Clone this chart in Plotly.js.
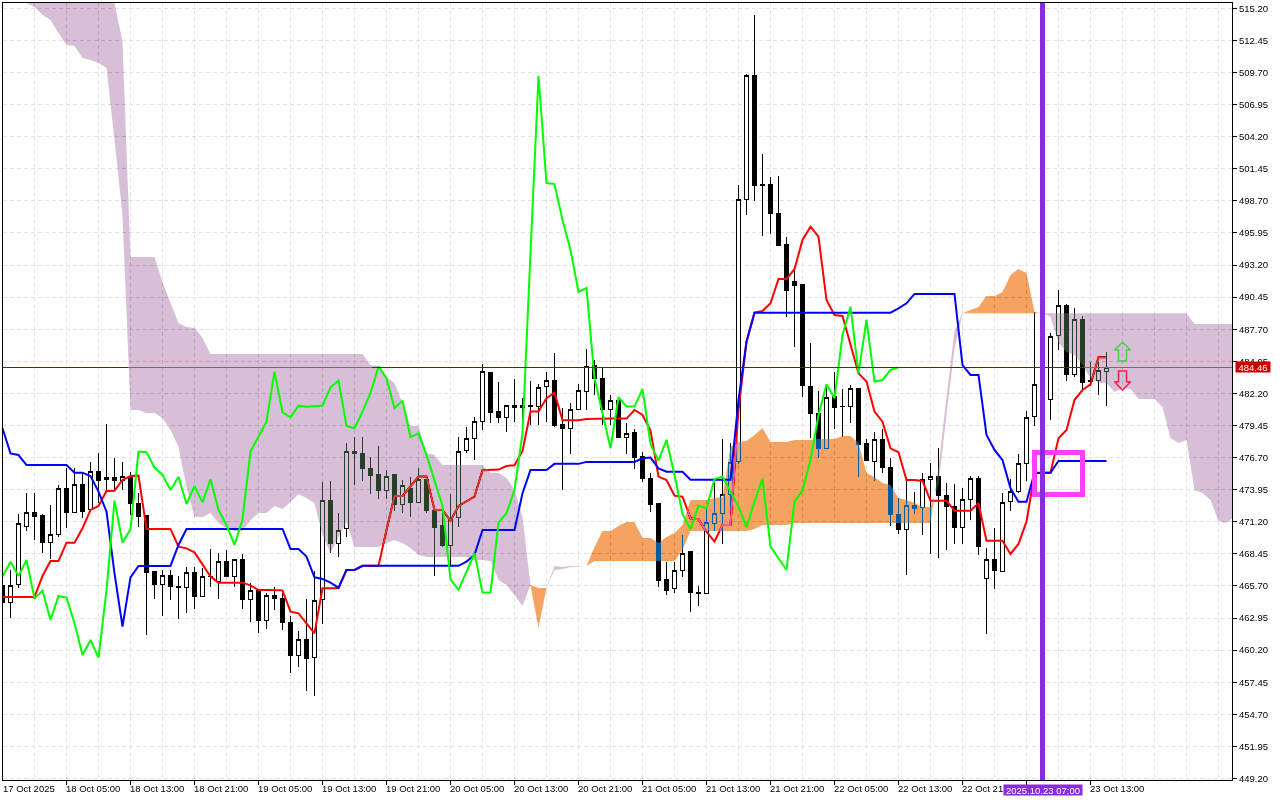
<!DOCTYPE html>
<html><head><meta charset="utf-8">
<script src="https://cdn.plot.ly/plotly-3.0.1.min.js"></script>
<style>html,body{margin:0;padding:0;background:#fff}#c{width:1280px;height:800px}</style>
</head><body><div id="c"></div>
<script>
const opens=[465.78,464.30,465.84,470.81,472.01,471.70,469.44,470.09,474.06,472.01,
474.41,472.21,475.52,474.84,475.01,474.75,475.06,472.78,471.70,466.90,
465.84,466.61,465.67,465.58,466.87,464.81,466.50,466.04,467.81,466.50,
467.98,464.55,465.35,462.75,464.90,464.64,462.58,459.76,461.13,459.58,
464.55,473.04,469.35,470.61,477.24,477.07,475.78,475.21,473.87,475.21,
472.67,474.07,472.84,474.84,472.16,470.84,469.16,471.59,477.30,478.33,
479.78,484.01,480.61,480.15,481.18,480.98,481.18,481.07,482.78,483.32,
479.50,479.21,480.84,482.35,484.55,483.50,480.84,481.61,478.41,478.81,
476.76,474.93,472.73,466.27,465.47,467.01,468.61,465.16,465.07,471.07,
471.93,473.50,476.35,498.83,509.40,500.06,500.12,497.63,494.92,491.83,
491.49,482.83,480.49,477.49,481.92,481.06,481.06,482.63,477.87,476.38,
478.21,475.87,471.84,470.55,472.61,472.41,474.84,475.12,473.41,472.55,
470.70,473.12,474.92,466.33,467.93,466.92,472.92,473.78,476.21,480.21,
482.98,481.69,487.12,489.69,483.83,488.49,483.32,483.32,484.09];
const closes=[464.30,465.75,471.07,472.01,471.64,469.41,470.12,474.06,471.98,474.41,
472.07,475.49,474.72,475.01,474.75,475.06,472.75,471.64,466.84,465.81,
466.61,465.64,465.58,466.87,464.78,466.52,466.52,467.81,466.50,467.98,
464.53,465.33,462.73,464.90,464.61,462.55,459.76,461.13,459.50,464.47,
473.04,469.30,470.44,477.24,477.04,475.73,475.16,473.87,475.10,472.67,
474.33,472.84,474.84,472.13,470.70,469.16,471.36,477.24,478.35,479.81,
484.10,480.55,480.13,481.18,480.98,481.18,481.10,482.72,483.32,479.41,
479.18,480.84,482.47,484.52,483.44,480.84,481.61,478.41,478.78,476.70,
474.87,472.67,466.16,465.30,467.01,468.50,465.13,465.07,471.15,471.93,
473.55,476.30,498.83,509.40,500.00,500.00,497.60,494.86,491.06,491.41,
482.86,480.49,477.49,481.86,480.98,481.09,482.63,477.84,476.44,478.27,
475.84,471.78,470.50,472.61,472.33,474.81,475.10,473.41,472.50,470.70,
473.12,474.92,469.07,467.98,467.01,472.87,473.78,476.21,480.15,482.98,
481.69,487.06,489.69,483.78,488.55,483.12,483.26,484.18,484.41];
const highs=[465.78,467.07,471.87,473.64,473.64,471.87,472.64,474.32,475.78,475.78,
475.35,476.29,477.06,479.55,476.63,476.29,475.49,473.64,471.70,467.01,
467.07,467.07,466.55,467.35,467.35,467.21,468.84,468.50,468.78,467.98,
468.44,465.93,465.35,465.07,465.64,465.07,463.13,461.87,464.55,467.01,
474.58,474.66,471.92,477.93,478.44,478.44,476.73,477.70,475.64,475.30,
474.78,475.07,475.78,475.07,472.36,472.16,473.59,478.44,479.30,480.15,
484.72,484.01,483.18,481.18,483.47,481.78,483.24,482.98,484.01,485.64,
480.93,481.35,482.98,486.01,485.07,484.38,482.07,481.61,479.64,479.15,
477.21,475.41,472.79,467.78,467.78,470.07,468.70,465.70,472.35,474.50,
478.30,477.98,500.06,509.57,514.63,502.69,500.72,500.83,495.63,492.78,
491.49,486.49,482.41,482.98,484.06,482.55,482.92,482.63,478.29,478.86,
479.12,476.64,473.21,474.78,473.72,475.35,476.21,477.49,474.50,474.41,
474.07,475.12,475.12,468.93,470.64,473.64,474.84,477.01,480.72,489.20,
482.98,487.35,491.06,489.83,489.49,488.83,484.92,484.92,485.72];
const lows=[464.30,462.98,465.50,470.44,469.64,468.55,468.00,469.92,470.69,472.01,
471.55,472.07,472.78,473.92,473.86,473.92,471.78,470.78,461.50,464.58,
463.13,464.50,462.90,463.41,463.73,464.78,465.64,464.61,466.50,465.64,
463.70,462.64,461.70,461.98,463.64,461.93,458.21,458.78,456.73,456.30,
462.44,468.50,468.21,469.93,474.36,474.70,473.59,473.13,473.13,472.16,
471.99,471.64,472.79,471.93,466.56,469.02,467.36,470.79,477.07,476.50,
479.07,479.70,479.70,478.93,479.78,479.78,479.50,479.50,479.78,479.35,
473.93,477.01,480.78,480.78,482.07,479.50,479.50,478.41,477.01,475.70,
474.64,472.07,465.65,464.93,465.13,466.44,463.50,463.97,465.07,470.44,
469.30,472.21,476.15,497.49,498.72,495.72,495.86,494.86,488.78,486.20,
481.92,478.35,476.69,477.49,479.12,478.49,479.69,475.07,476.44,474.72,
475.35,470.84,470.13,466.64,471.87,470.07,468.44,468.13,468.78,469.30,
469.30,471.35,468.35,461.59,465.44,466.87,472.15,473.64,474.72,479.41,
481.69,479.92,485.92,483.29,483.58,482.55,482.84,482.06,481.12];
const tenkan=[464.75,464.75,464.75,464.75,464.75,466.55,467.84,467.84,469.41,469.41,
470.64,472.21,472.55,473.84,473.86,474.78,475.12,475.15,470.58,470.58,
470.58,470.58,469.07,468.92,468.58,467.58,466.50,465.98,465.98,465.98,
465.98,465.75,465.35,465.35,465.32,465.32,463.50,463.35,462.50,461.64,
465.50,465.50,465.50,467.07,467.07,467.42,467.42,467.42,470.50,473.41,
473.41,474.27,475.07,475.07,472.21,472.21,471.27,472.56,472.93,473.36,
475.61,475.61,475.67,475.98,476.04,477.27,480.64,480.64,481.78,482.27,
479.90,479.90,479.90,480.01,480.04,480.04,480.04,480.04,480.04,480.78,
480.35,479.01,475.07,474.78,473.44,473.35,471.50,471.41,470.35,469.50,
470.92,470.92,480.78,486.63,489.12,489.26,489.92,492.01,492.01,492.84,
495.35,496.49,495.63,490.21,488.92,488.83,486.35,483.92,483.21,480.64,
479.78,477.49,477.15,474.78,474.78,474.70,473.01,473.01,473.01,472.15,
472.15,472.15,472.78,469.58,469.58,469.58,468.44,469.30,471.21,475.35,
475.41,475.41,478.35,479.06,481.63,482.49,482.98,485.29,485.29];
const kijun=[479.21,477.06,476.92,476.06,476.06,476.06,476.06,476.06,476.06,475.41,
475.41,475.12,473.78,472.07,466.78,462.21,466.44,467.41,467.41,467.41,
467.41,467.41,469.21,470.58,470.58,470.58,470.58,470.58,470.58,470.58,
470.58,470.58,470.58,470.58,470.58,470.58,468.87,468.87,468.21,466.44,
466.30,465.98,465.55,467.07,467.07,467.42,467.42,467.42,467.42,467.42,
467.42,467.42,467.42,467.42,467.42,467.42,467.42,467.42,467.79,468.36,
470.50,470.50,470.50,470.50,470.50,473.64,475.64,475.64,475.64,476.16,
476.16,476.16,476.16,476.33,476.33,476.33,476.33,476.33,476.33,476.33,
476.64,476.70,475.78,475.49,475.49,475.49,474.81,474.81,474.81,474.81,
474.81,474.81,481.63,486.63,489.12,489.12,489.12,489.12,489.12,489.12,
489.12,489.12,489.12,489.12,489.12,489.12,489.12,489.12,489.12,489.12,
489.12,489.12,489.49,489.92,490.72,490.72,490.72,490.72,490.72,490.72,
484.63,483.78,483.78,478.64,477.35,476.49,474.07,472.92,472.92,475.41,
475.41,475.41,476.41,476.41,476.41,476.41,476.41,476.41,476.41];
const chikou=[466.50,467.78,466.55,467.92,464.61,465.30,462.78,464.84,464.70,462.50,
459.78,461.07,459.56,465.35,473.01,469.41,470.55,477.21,477.15,475.84,
475.21,473.92,475.06,472.72,474.26,472.86,474.84,472.21,470.92,469.21,
471.41,477.21,478.49,479.78,484.06,480.58,480.15,481.15,481.06,481.12,
481.15,482.72,483.29,479.41,479.21,480.64,482.21,484.50,483.50,480.93,
481.58,478.44,478.78,476.93,474.78,472.56,466.27,465.36,466.93,468.50,
465.13,465.13,471.13,471.93,473.93,478.78,494.23,509.40,500.23,500.14,
497.06,494.49,490.89,491.23,483.50,480.50,477.50,481.87,481.07,481.07,
482.58,477.87,476.44,478.21,475.21,471.87,470.55,472.58,472.35,474.87,
475.07,473.78,472.50,470.72,472.92,474.87,469.07,468.07,467.07,472.92,
473.87,476.49,480.35,482.98,481.78,487.20,489.63,483.92,488.49,483.21,
483.35,484.21,484.43];
const cloudStart=3;
const spanA=[515.65,515.31,514.65,514.20,513.08,512.06,511.97,510.94,510.77,510.51,
510.08,503.91,497.49,480.78,480.78,480.52,480.52,480.09,479.06,477.61,
474.18,471.61,471.61,471.95,471.09,470.67,470.41,470.41,471.35,471.95,
471.95,472.55,472.29,472.89,473.58,473.24,472.81,470.07,468.52,469.89,
471.18,469.04,469.04,469.04,469.04,469.38,469.64,469.38,468.95,468.35,
468.18,468.18,468.18,468.18,468.18,468.18,467.92,467.92,467.84,466.21,
465.78,464.92,463.98,465.78,465.52,465.52,467.07,467.15,467.32,467.37,
467.41,469.04,470.41,470.41,470.84,471.18,471.18,469.81,469.81,469.38,
469.89,470.24,470.92,473.06,473.06,473.06,473.24,473.32,477.61,478.03,
478.12,478.64,479.23,478.03,478.03,478.03,478.21,478.21,478.21,478.29,
478.29,478.29,478.55,478.55,477.95,475.38,475.04,474.52,474.35,473.24,
473.06,472.81,472.47,472.47,474.40,480.40,486.00,489.06,489.35,489.60,
490.55,490.55,490.89,492.35,492.86,492.52,489.17,489.06,488.75,486.52,
485.75,485.49,484.63,483.52,483.09,483.09,482.32,482.66,482.58,481.72,
481.72,481.72,481.04,478.38,477.95,478.21,473.92,473.66,473.06,471.27,
471.09,471.61];
const spanB=[515.65,515.65,515.65,515.65,515.65,515.65,515.65,515.65,515.65,515.65,
515.65,515.65,512.31,493.89,493.89,493.89,493.89,491.75,489.95,488.23,
487.89,487.80,486.95,485.58,485.58,485.58,485.58,485.58,485.58,485.58,
485.58,485.58,485.58,485.58,485.58,485.58,485.58,485.58,485.58,485.58,
485.58,485.58,485.58,484.63,484.55,483.61,483.09,481.38,479.41,479.41,
477.09,476.92,476.06,476.06,476.06,476.06,476.06,476.06,475.38,475.38,
474.95,473.92,471.61,465.78,462.10,465.52,467.41,467.32,467.41,467.41,
467.41,467.84,467.84,467.84,467.84,467.84,467.84,467.84,467.84,467.84,
467.84,467.84,468.78,470.41,470.41,470.41,470.41,470.41,470.41,470.41,
470.41,470.58,470.92,470.92,470.92,470.92,471.09,471.09,471.09,471.09,
471.09,471.09,471.09,471.09,471.09,471.09,471.09,471.09,471.09,471.09,
471.09,471.09,471.09,471.09,475.80,481.90,487.50,489.06,489.06,489.06,
489.06,489.06,489.06,489.06,489.06,489.06,489.06,489.06,489.06,489.06,
489.06,489.06,489.06,489.06,489.06,489.06,489.06,489.06,489.06,489.06,
489.06,489.06,489.06,489.06,489.06,489.06,488.15,488.15,488.15,488.15,
488.15,488.15];
const dateTickBars=[0,8,16,24,32,40,48,56,64,72,80,88,96,104,112,120,128,136];
const dateTickLabels=["17 Oct 2025","18 Oct 05:00","18 Oct 13:00","18 Oct 21:00","19 Oct 05:00","19 Oct 13:00","19 Oct 21:00","20 Oct 05:00","20 Oct 13:00","20 Oct 21:00","21 Oct 05:00","21 Oct 13:00","21 Oct 21:00","22 Oct 05:00","22 Oct 13:00","22 Oct 21:00","","23 Oct 13:00"];
const lastPrice=484.46, markerBar=130, markerLabel="2025.10.23 07:00";
const boxBars=[129.04,135], boxPrices=[473.56,477.13];
const upArrowX=[140,141,140.5,140.5,139.5,139.5,139,140], upArrowY=[486.58,485.92,485.92,484.98,484.98,485.92,485.92,486.58];
const downArrowX=[140,141,140.5,140.5,139.5,139.5,139,140], downArrowY=[482.48,483.2,483.2,484.12,484.12,483.2,483.2,482.48];
const FONT='"Liberation Sans",Arial,sans-serif';
const bars=opens.map((_,i)=>i);

function buildClouds(){
  const pts=[];
  spanA.forEach((a,i)=>{
    const k=cloudStart+i,b=spanB[i];
    if(i>0){
      const a0=spanA[i-1],b0=spanB[i-1],d0=b0-a0,d1=b-a;
      if(d0*d1<0){const t=d0/(d0-d1);pts.push({k:k-1+t,a:a0+t*(a-a0),b:a0+t*(a-a0)});}
    }
    pts.push({k,a,b});
  });
  const out={pur:{x:[],y:[]},org:{x:[],y:[]}};
  function flush(run,sign){
    if(run.length<2||!sign)return;
    const t=sign>0?out.pur:out.org;
    run.forEach(p=>{t.x.push(p.k);t.y.push(p.b);});
    run.slice().reverse().forEach(p=>{t.x.push(p.k);t.y.push(p.a);});
    t.x.push(null);t.y.push(null);
  }
  let run=[],sign=0;
  pts.forEach(p=>{
    const s=Math.sign(p.b-p.a);
    if(s!==0&&sign!==0&&s!==sign){flush(run,sign);run=[run[run.length-1]];}
    if(s!==0)sign=s;
    run.push(p);
  });
  flush(run,sign);
  return out;
}
const cl=buildClouds();

const ln=(y,color,x)=>({type:'scatter',mode:'lines',x:x||bars,y,line:{color,width:2,shape:'linear'},hoverinfo:'skip',showlegend:false});
const traces=[
 {type:'candlestick',x:bars,open:opens,high:highs,low:lows,close:closes,whiskerwidth:0,hoverinfo:'skip',showlegend:false,
  increasing:{line:{color:'#000',width:1},fillcolor:'#fff'},decreasing:{line:{color:'#000',width:1},fillcolor:'#000'}},
 ln(tenkan,'#ff0000'),
 {type:'scatter',mode:'none',x:cl.pur.x,y:cl.pur.y,fill:'toself',fillcolor:'rgb(40,64,40)',hoverinfo:'skip',showlegend:false},
 {type:'scatter',mode:'none',x:cl.org.x,y:cl.org.y,fill:'toself',fillcolor:'rgb(11,91,159)',hoverinfo:'skip',showlegend:false},
 ln(kijun,'#0000ff'),
 ln(chikou,'#00ff00'),
 {type:'scatter',mode:'lines',x:upArrowX,y:upArrowY,line:{color:'#40d840',width:1.5},hoverinfo:'skip',showlegend:false},
 {type:'scatter',mode:'lines',x:downArrowX,y:downArrowY,line:{color:'#ff2040',width:1.5},hoverinfo:'skip',showlegend:false}
];
const xr=[0.0625,153.6875];
const grid={gridcolor:'#e2e2e2',griddash:'4px,3px',gridwidth:1};
const annos=dateTickBars.map((k,i)=>({xref:'x',yref:'paper',x:Math.max(k,xr[0]),y:0,xanchor:'left',yanchor:'top',yshift:-2,xshift:k===0?-1:-2,text:dateTickLabels[i],showarrow:false,font:{family:FONT,size:9.5,color:'#000'},borderpad:0})).filter(a=>a.text);
annos.push({xref:'x',yref:'paper',x:markerBar,y:0,xanchor:'center',yanchor:'top',yshift:-4,text:markerLabel,showarrow:false,font:{family:FONT,size:9.5,color:'#fff'},bgcolor:'#8a2be2',width:78,height:10,borderpad:0});
annos.push({xref:'paper',yref:'y',x:1,y:lastPrice,xanchor:'left',yanchor:'middle',xshift:3,text:lastPrice.toFixed(2),showarrow:false,font:{family:FONT,size:9.5,color:'#fff'},bgcolor:'#cc0000',width:34,height:10,borderpad:0});
const seg=(a,b,c)=>({type:'line',xref:'x',yref:'y',x0:a,x1:b,y0:lastPrice,y1:lastPrice,line:{color:c,width:1},layer:'above'});
const layout={
 width:1280,height:800,autosize:false,
 margin:{l:3,r:48,t:3,b:20,pad:0},
 paper_bgcolor:'#fff',plot_bgcolor:'#fff',showlegend:false,boxgap:0.42,
 font:{family:FONT,size:9.5,color:'#000'},
 xaxis:Object.assign({type:'linear',range:xr,tickmode:'array',tickvals:dateTickBars,ticktext:dateTickBars.map(()=>''),ticks:'outside',ticklen:4,tickwidth:1,tickcolor:'#000',
   showticklabels:false,showline:true,linecolor:'#000',linewidth:1,mirror:true,showgrid:true,zeroline:false,rangeslider:{visible:false},
   minor:{tickmode:'linear',tick0:0,dtick:4,showgrid:true,gridcolor:'#e2e2e2',griddash:'4px,3px',gridwidth:1,ticks:''}},grid),
 yaxis:Object.assign({type:'linear',side:'right',range:[449.07,515.654],tickmode:'linear',tick0:451.95,dtick:2.75,tickformat:'.2f',ticks:'outside',ticklen:4,tickwidth:1,tickcolor:'#000',
   showline:true,linecolor:'#000',linewidth:1,mirror:true,showgrid:true,zeroline:false,tickfont:{family:FONT,size:9.5,color:'#000'}},grid),
 shapes:[
  seg(xr[0],xr[1],'#a80000'),
  seg(15.7,46.2,'#e84028'),
  seg(135.2,xr[1],'#e84028'),
  {type:'rect',xref:'x',yref:'y',x0:boxBars[0],x1:boxBars[1],y0:boxPrices[0],y1:boxPrices[1],line:{color:'#ff40ff',width:5},fillcolor:'rgba(0,0,0,0)',layer:'above'},
  {type:'line',xref:'x',yref:'paper',x0:markerBar,x1:markerBar,y0:0,y1:1,line:{color:'#8a2be2',width:5},layer:'above'}
 ],
 annotations:annos
};
Plotly.newPlot('c',traces,layout,{displayModeBar:false,staticPlot:true}).then(()=>{
  const root=document.getElementById('c');
  const box=root.querySelector('.boxlayer');
  const plot=box.parentNode;
  const clip=plot.getAttribute('clip-path');
  plot.removeAttribute('clip-path');
  plot.style.clipPath='none';
  if(clip)box.setAttribute('clip-path',clip);
  box.querySelectorAll('path').forEach(p=>{p.style.shapeRendering='crispEdges';});
  root.querySelectorAll('.scatterlayer .js-fill').forEach(p=>{
    p.style.mixBlendMode='difference';
    if(clip)p.setAttribute('clip-path',clip);
  });
  root.querySelectorAll('.shapelayer path').forEach(p=>{p.style.shapeRendering='crispEdges';});
});
</script></body></html>
